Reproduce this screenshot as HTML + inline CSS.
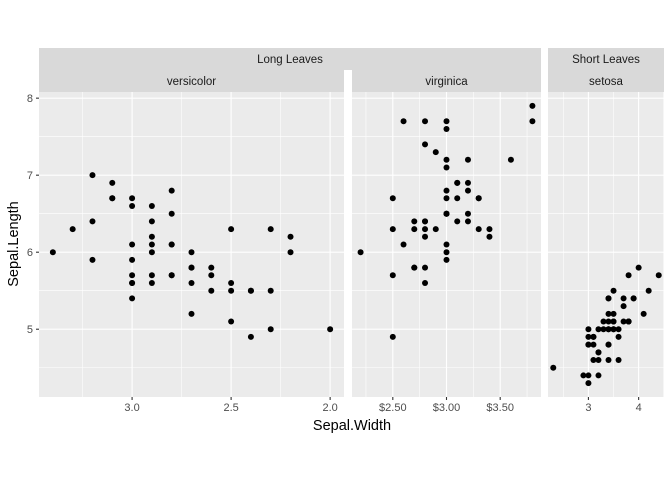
<!DOCTYPE html>
<html><head><meta charset="utf-8"><style>
body{margin:0;background:#fff}
text{font-family:"Liberation Sans",sans-serif}
</style></head><body>
<svg id="c" width="672" height="480" xmlns="http://www.w3.org/2000/svg"></svg>
<script>
const versicolorSW=[3.2,3.2,3.1,2.3,2.8,2.8,3.3,2.4,2.9,2.7,2.0,3.0,2.2,2.9,2.9,3.1,3.0,2.7,2.2,2.5,3.2,2.8,2.5,2.8,2.9,3.0,2.8,3.0,2.9,2.6,2.4,2.4,2.7,2.7,3.0,3.4,3.1,2.3,3.0,2.5,2.6,3.0,2.6,2.3,2.7,3.0,2.9,2.9,2.5,2.8];
const versicolorSL=[7.0,6.4,6.9,5.5,6.5,5.7,6.3,4.9,6.6,5.2,5.0,5.9,6.0,6.1,5.6,6.7,5.6,5.8,6.2,5.6,5.9,6.1,6.3,6.1,6.4,6.6,6.8,6.7,6.0,5.7,5.5,5.5,5.8,6.0,5.4,6.0,6.7,6.3,5.6,5.5,5.5,6.1,5.8,5.0,5.6,5.7,5.7,6.2,5.1,5.7];
const virginicaSW=[3.3,2.7,3.0,2.9,3.0,3.0,2.5,2.9,2.5,3.6,3.2,2.7,3.0,2.5,2.8,3.2,3.0,3.8,2.6,2.2,3.2,2.8,2.8,2.7,3.3,3.2,2.8,3.0,2.8,3.0,2.8,3.8,2.8,2.8,2.6,3.0,3.4,3.1,3.0,3.1,3.1,3.1,2.7,3.2,3.3,3.0,2.5,3.0,3.4,3.0];
const virginicaSL=[6.3,5.8,7.1,6.3,6.5,7.6,4.9,7.3,6.7,7.2,6.5,6.4,6.8,5.7,5.8,6.4,6.5,7.7,7.7,6.0,6.9,5.6,7.7,6.3,6.7,7.2,6.2,6.1,6.4,7.2,7.4,7.9,6.4,6.3,6.1,7.7,6.3,6.4,6.0,6.9,6.7,6.9,5.8,6.8,6.7,6.7,6.3,6.5,6.2,5.9];
const setosaSW=[3.5,3.0,3.2,3.1,3.6,3.9,3.4,3.4,2.9,3.1,3.7,3.4,3.0,3.0,4.0,4.4,3.9,3.5,3.8,3.8,3.4,3.7,3.6,3.3,3.4,3.0,3.4,3.5,3.4,3.2,3.1,3.4,4.1,4.2,3.1,3.2,3.5,3.6,3.0,3.4,3.5,2.3,3.2,3.5,3.8,3.0,3.8,3.2,3.7,3.3];
const setosaSL=[5.1,4.9,4.7,4.6,5.0,5.4,4.6,5.0,4.4,4.9,5.4,4.8,4.8,4.3,5.8,5.7,5.4,5.1,5.7,5.1,5.4,5.1,4.6,5.1,4.8,5.0,5.0,5.2,5.2,4.7,4.8,5.4,5.2,5.5,4.9,5.0,5.5,4.9,4.4,5.1,5.0,4.5,4.4,5.0,5.1,4.8,5.1,4.6,5.3,5.0];
const yTicks=[5,6,7,8];
const yMinor=[4.5,5.5,6.5,7.5];
const p1Ticks=[3.0,2.5,2.0], p1Labels=["3.0","2.5","2.0"], p1Minor=[2.25,2.75,3.25];
const p2Ticks=[2.5,3.0,3.5], p2Labels=["$2.50","$3.00","$3.50"], p2Minor=[2.25,2.75,3.25,3.75];
const p3Ticks=[3,4], p3Labels=["3","4"], p3Minor=[2.5,3.5,4.5];

const svg=document.getElementById('c');
const NS='http://www.w3.org/2000/svg';
function mk(tag,attrs,parent){const e=document.createElementNS(NS,tag);for(const k in attrs)e.setAttribute(k,attrs[k]);(parent||svg).appendChild(e);return e;}
const pTop=92,pBot=397;
const y=v=>pTop+(8.08-v)/(8.08-4.12)*(pBot-pTop);
const panels=[
 {name:'versicolor',x0:39,x1:344,d0:3.47,d1:1.93,sw:versicolorSW,sl:versicolorSL,t:p1Ticks,l:p1Labels,m:p1Minor},
 {name:'virginica',x0:352,x1:541,d0:2.12,d1:3.88,sw:virginicaSW,sl:virginicaSL,t:p2Ticks,l:p2Labels,m:p2Minor},
 {name:'setosa',x0:548,x1:664,d0:2.195,d1:4.505,sw:setosaSW,sl:setosaSL,t:p3Ticks,l:p3Labels,m:p3Minor}
];
let s=mk('rect',{x:39,y:48,width:502,height:22,fill:'#D9D9D9'});


let t=mk('text',{x:290,y:63,'font-size':11.5,fill:'#1A1A1A','text-anchor':'middle'});t.textContent='Long Leaves';


s=mk('rect',{x:548,y:48,width:116,height:22,fill:'#D9D9D9'});


t=mk('text',{x:606,y:63,'font-size':11.5,fill:'#1A1A1A','text-anchor':'middle'});t.textContent='Short Leaves';


panels.forEach(p=>{
 const x=v=>p.x0+(v-p.d0)/(p.d1-p.d0)*(p.x1-p.x0);
 const g=mk('g',{});
 
 
 const st=mk('rect',{x:p.x0,y:70,width:p.x1-p.x0,height:22,fill:'#D9D9D9'},g);
 
 
 const sl=mk('text',{x:(p.x0+p.x1)/2,y:85,'font-size':11.5,fill:'#1A1A1A','text-anchor':'middle'},g);sl.textContent=p.name;
 
 
 mk('rect',{x:p.x0,y:pTop,width:p.x1-p.x0,height:pBot-pTop,fill:'#EBEBEB'},g);
 yMinor.forEach(v=>mk('line',{x1:p.x0,x2:p.x1,y1:y(v),y2:y(v),stroke:'#fff','stroke-width':0.55},g));
 p.m.forEach(v=>mk('line',{x1:x(v),x2:x(v),y1:pTop,y2:pBot,stroke:'#fff','stroke-width':0.55},g));
 yTicks.forEach(v=>mk('line',{x1:p.x0,x2:p.x1,y1:y(v),y2:y(v),stroke:'#fff','stroke-width':1.1},g));
 p.t.forEach((v,i)=>{
  mk('line',{x1:x(v),x2:x(v),y1:pTop,y2:pBot,stroke:'#fff','stroke-width':1.1},g);
  mk('line',{x1:x(v),x2:x(v),y1:pBot,y2:pBot+3,stroke:'#333','stroke-width':1.1},g);
  const tl=mk('text',{x:x(v),y:pBot+14,'font-size':11,fill:'#4D4D4D','text-anchor':'middle'},g);tl.textContent=p.l[i];
  
  
 });
 p.sw.forEach((v,i)=>{
  const c=mk('circle',{cx:x(v),cy:y(p.sl[i]),r:3,fill:'#000'},g);
  
  
 });
});
yTicks.forEach(v=>{
 mk('line',{x1:36,x2:39,y1:y(v),y2:y(v),stroke:'#333','stroke-width':1.1});
 const tl=mk('text',{x:33,y:y(v)+4,'font-size':11,fill:'#4D4D4D','text-anchor':'end'});tl.textContent=v;
 
 
});
t=mk('text',{x:352,y:430,'font-size':14.5,fill:'#000','text-anchor':'middle'});t.textContent='Sepal.Width';


t=mk('text',{x:18,y:244,'font-size':14.5,fill:'#000','text-anchor':'middle',transform:'rotate(-90 18 244)'});t.textContent='Sepal.Length';


</script>
</body></html>
